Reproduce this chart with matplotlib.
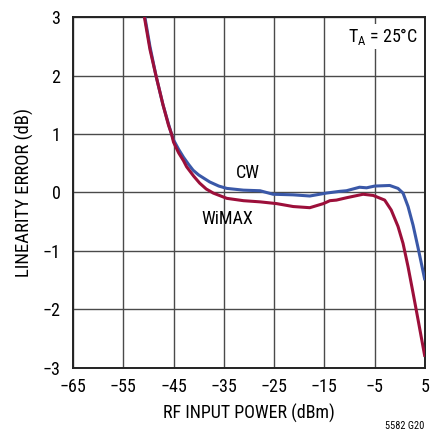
import matplotlib
matplotlib.use("Agg")
import matplotlib.pyplot as plt

# Linearity error vs RF input power, T_A = 25C
CW_DBM = [-50.7, -49.7, -48.5, -47.1, -46.0, -45.4, -45.0, -44.0, -43.0, -42.0,
          -41.1, -40.0, -37.8, -36.0, -34.4, -31.1, -27.8, -25.2, -21.2, -17.9,
          -14.6, -11.9, -10.6, -8.0, -6.6, -5.0, -2.0, -0.35, 0.65, 1.65, 2.65,
          3.65, 5.0]
CW_ERR = [3.0, 2.5, 2.0, 1.5, 1.17, 1.0, 0.9, 0.74, 0.6, 0.48,
          0.38, 0.3, 0.18, 0.11, 0.07, 0.04, 0.03, -0.03, -0.04, -0.06,
          -0.01, 0.02, 0.03, 0.09, 0.08, 0.11, 0.12, 0.07, -0.01, -0.24, -0.56,
          -0.95, -1.5]

WIMAX_DBM = [-50.8, -49.7, -48.5, -47.1, -46.0, -45.4, -45.0, -44.0, -43.0, -42.4,
             -41.0, -39.8, -38.5, -37.1, -34.4, -31.1, -27.8, -24.5, -21.2, -17.9,
             -15.2, -13.9, -12.6, -10.6, -7.3, -5.3, -5.0, -3.0, -1.7, -0.35, 0.65,
             1.65, 2.65, 3.65, 5.0]
WIMAX_ERR = [3.0, 2.45, 2.0, 1.5, 1.15, 1.0, 0.86, 0.68, 0.54, 0.44,
             0.28, 0.16, 0.06, -0.01, -0.1, -0.14, -0.16, -0.19, -0.24, -0.26,
             -0.19, -0.14, -0.13, -0.09, -0.03, -0.05, -0.06, -0.13, -0.3, -0.58, -0.87,
             -1.27, -1.72, -2.18, -2.81]

X_TICKS = [-65, -55, -45, -35, -25, -15, -5, 5]
Y_TICKS = [-3, -2, -1, 0, 1, 2, 3]

BLUE = "#3a58a8"
RED = "#9c0f3a"

plt.rcParams["font.family"] = ["Roboto Condensed", "Archivo Narrow", "DejaVu Sans"]
plt.rcParams["mathtext.fontset"] = "custom"
plt.rcParams["mathtext.rm"] = "Roboto Condensed"

FS = 13

fig = plt.figure(figsize=(4.41, 4.36), dpi=100)
ax = fig.add_axes([0.1655, 0.156, 0.798, 0.805])

ax.plot(CW_DBM, CW_ERR, color=BLUE, lw=2.2, solid_capstyle="butt", zorder=3)
ax.plot(WIMAX_DBM, WIMAX_ERR, color=RED, lw=2.2, solid_capstyle="butt", zorder=4)

ax.set_xlim(-65, 5)
ax.set_ylim(-3, 3)
ax.set_xticks(X_TICKS)
ax.set_yticks(Y_TICKS)
ax.grid(True, color="#4a4a4a", lw=1.0)
ax.tick_params(length=0, labelsize=FS)
ax.tick_params(axis="x", pad=7)
ax.tick_params(axis="y", pad=9)
for s in ax.spines.values():
    s.set_linewidth(1.4)
    s.set_color("#222222")

ax.set_xlabel("RF INPUT POWER (dBm)", fontsize=FS, labelpad=6)
ax.set_ylabel("LINEARITY ERROR (dB)", fontsize=13.5, labelpad=6)

ax.text(-30.2, 0.33, "CW", fontsize=FS, ha="center", va="center", zorder=5)
ax.text(-34.4, -0.45, "WiMAX", fontsize=FS, ha="center", va="center", zorder=5)
ax.text(0.98, 0.975, r"T$_\mathregular{A}$ = 25°C", transform=ax.transAxes,
        fontsize=FS, ha="right", va="top", zorder=6,
        bbox=dict(facecolor="white", edgecolor="none", pad=1.5))

fig.text(0.963, 0.012, "5582 G20", fontsize=7.5, ha="right", va="bottom")

fig.savefig("out.png", dpi=100)
